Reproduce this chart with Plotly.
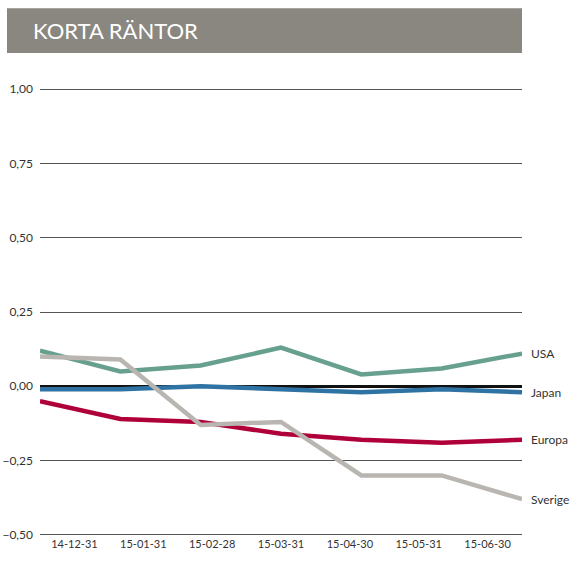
import plotly.graph_objects as go

dates = ["14-12-31", "15-01-31", "15-02-28", "15-03-31", "15-04-30", "15-05-31", "15-06-30"]
usa = [0.12, 0.05, 0.07, 0.13, 0.04, 0.06, 0.11]
japan = [-0.01, -0.01, 0.0, -0.01, -0.02, -0.01, -0.02]
europa = [-0.05, -0.11, -0.12, -0.16, -0.18, -0.19, -0.18]
sverige = [0.10, 0.09, -0.13, -0.12, -0.30, -0.30, -0.38]

series = [
    ("USA", usa, "#68a090"),
    ("Japan", japan, "#2f73a5"),
    ("Europa", europa, "#b0003a"),
    ("Sverige", sverige, "#b9b6b1"),
]

FONT = "Lato, 'Open Sans', sans-serif"
TXT = "#333333"

fig = go.Figure()
idx = list(range(len(dates)))
for name, vals, col in series:
    fig.add_trace(go.Scatter(x=idx, y=vals, mode="lines", name=name,
                             line=dict(color=col, width=4.5), showlegend=False,
                             hoverinfo="skip"))
    fig.add_annotation(x=idx[-1], y=vals[-1], text=name, showarrow=False,
                       xanchor="left", yanchor="middle", xshift=7,
                       font=dict(family=FONT, size=12, color=TXT))

# invisible trace on category axis for tick labels
fig.add_trace(go.Scatter(x=dates, y=[None] * len(dates), xaxis="x2", mode="lines",
                         showlegend=False, hoverinfo="skip"))

fig.update_layout(
    width=571, height=563,
    margin=dict(l=40, r=49, t=88, b=27),
    paper_bgcolor="white", plot_bgcolor="white",
    separators=", ",
    xaxis=dict(range=[0, 6], showgrid=False, showticklabels=False, zeroline=False,
               showline=False, ticks="", automargin=False),
    xaxis2=dict(overlaying="x", side="bottom", type="category", automargin=False,
                range=[-0.5, 6.5], showgrid=False, zeroline=False, showline=False,
                ticks="", tickfont=dict(family=FONT, size=11, color=TXT)),
    yaxis=dict(range=[-0.504, 1.004], tickvals=[-0.5, -0.25, 0, 0.25, 0.5, 0.75, 1.0],
               tickformat=".2f", showgrid=True, gridcolor="#555555", gridwidth=1,
               zeroline=True, zerolinecolor="#111111", zerolinewidth=2.5,
               showline=False, ticks="", automargin=False, ticklabelstandoff=6,
               tickfont=dict(family=FONT, size=12, color=TXT)),
    shapes=[dict(type="rect", xref="paper", yref="paper",
                 x0=-0.0685, x1=1.0, y0=1.078, y1=1.178,
                 fillcolor="#8a8680", line=dict(width=0), layer="above")],
)
fig.add_annotation(xref="paper", yref="paper", x=-0.0185, y=1.1276,
                   text="KORTA RÄNTOR", showarrow=False, xanchor="left",
                   yanchor="middle", font=dict(family=FONT, size=22, color="white"))

fig.write_html("out.html", config={"displayModeBar": False},
               post_script="document.body.style.margin='0';document.body.style.overflow='hidden';")
